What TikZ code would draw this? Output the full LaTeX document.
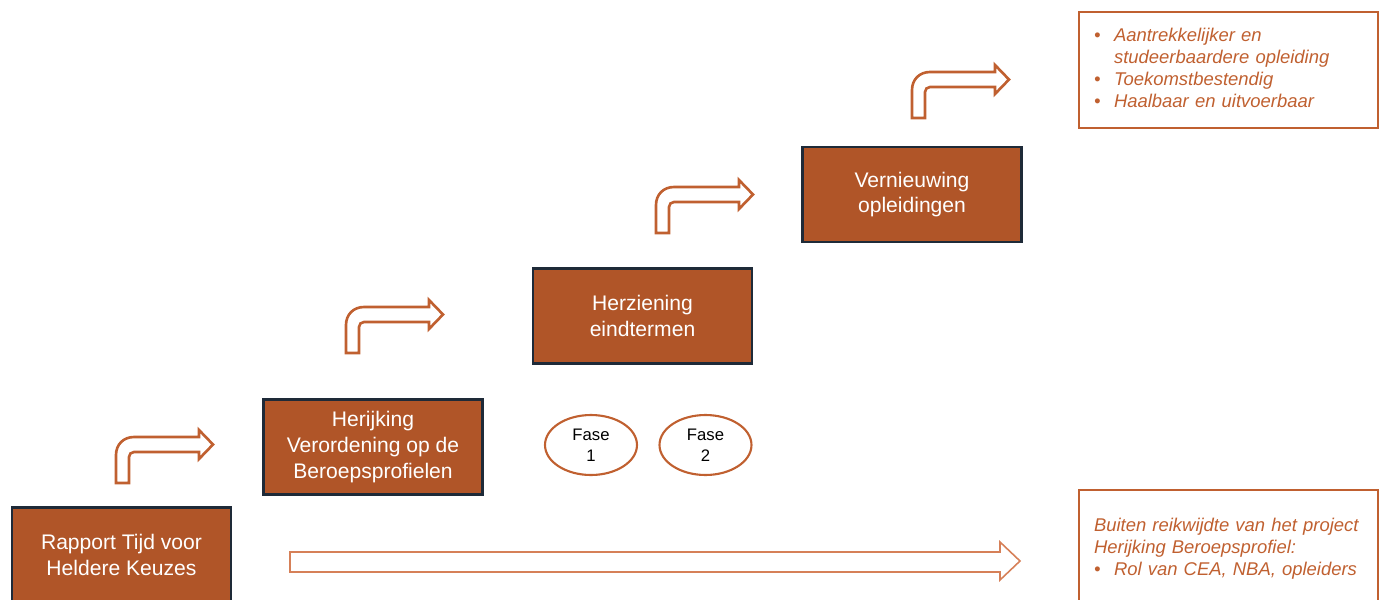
\documentclass[tikz,border=0pt]{standalone}
\usepackage{fontspec}
\setmainfont{Liberation Sans}
\usetikzlibrary{shapes.geometric}

\definecolor{stapbruin}{RGB}{176,85,40}
\definecolor{randdonker}{RGB}{30,42,56}
\definecolor{lijnbruin}{RGB}{192,96,48}
\definecolor{lijnlicht}{RGB}{214,128,88}

\begin{document}
\begin{tikzpicture}[
            x=0.02cm, y=-0.02cm,
            stap/.style={draw=randdonker, line width=1.6pt, fill=stapbruin, text=white,
                minimum width=4.38cm, minimum height=1.9cm, align=center,
                font=\fontsize{12}{14.7}\selectfont},
            fase/.style={ellipse, draw=lijnbruin, line width=1.2pt, minimum width=1.84cm,
                minimum height=1.2cm, inner sep=0pt, align=center,
                font=\fontsize{9.5}{12}\selectfont},
            kader/.style={draw=lijnbruin, line width=1.5pt, text=lijnbruin,
                text width=5.38cm, inner xsep=0.3cm, align=left,
                font=\fontsize{10.5}{12.5}\selectfont\itshape},
            bentarrow/.pic={
                \draw [line width=1.5pt, draw=lijnbruin]
                    (0,0) -- (0,-28) .. controls (0,-38.5) and (7.5,-46) .. (18,-46)
                    -- (83,-46) -- (83,-53) -- (97,-38.5) -- (83,-24) -- (83,-31)
                    -- (18,-31) .. controls (15.2,-31) and (13,-28.8) .. (13,-26)
                    -- (13,0) -- cycle;
            }
        ]
            \useasboundingbox (0,0) rectangle (1384,599);
            \clip (0,0) rectangle (1384,599);

            \node [stap] (rapport) at (121.5,555) {Rapport Tijd voor\\Heldere Keuzes};
            \node [stap] (herijking) at (373,447) {Herijking\\Verordening op de\\Beroepsprofielen};
            \node [stap] (herziening) at (642.5,316) {Herziening\\eindtermen};
            \node [stap] (vernieuwing) at (912,194.5) {Vernieuwing\\opleidingen};

            \node [fase] (fase1) at (591,445) {Fase\\1};
            \node [fase] (fase2) at (705.5,445) {Fase\\2};

            \foreach \x/\y in {116/483,346/353,656/233,912/118} {
                \pic at (\x,\y) {bentarrow};
            }

            \node [kader, minimum height=2.32cm] (doelen) at (1228.5,70) {%
                \begin{tabular}{@{}p{0.4cm}@{}l@{}}
                    \textbullet & Aantrekkelijker en\\
                                & studeerbaardere opleiding\\
                    \textbullet & Toekomstbestendig\\
                    \textbullet & Haalbaar en uitvoerbaar
                \end{tabular}};
            \node [kader, minimum height=2.36cm] (buiten) at (1228.5,549) {%
                \begin{tabular}{@{}p{0.4cm}@{}l@{}}
                    \multicolumn{2}{@{}l@{}}{Buiten reikwijdte van het project}\\
                    \multicolumn{2}{@{}l@{}}{Herijking Beroepsprofiel:}\\
                    \textbullet & Rol van CEA, NBA, opleiders
                \end{tabular}};

            \draw [line width=0.9pt, draw=lijnlicht] (290,552) -- (1000,552) -- (1000,542)
                -- (1020,561) -- (1000,580) -- (1000,572) -- (290,572) -- cycle;
        \end{tikzpicture}
\end{document}
